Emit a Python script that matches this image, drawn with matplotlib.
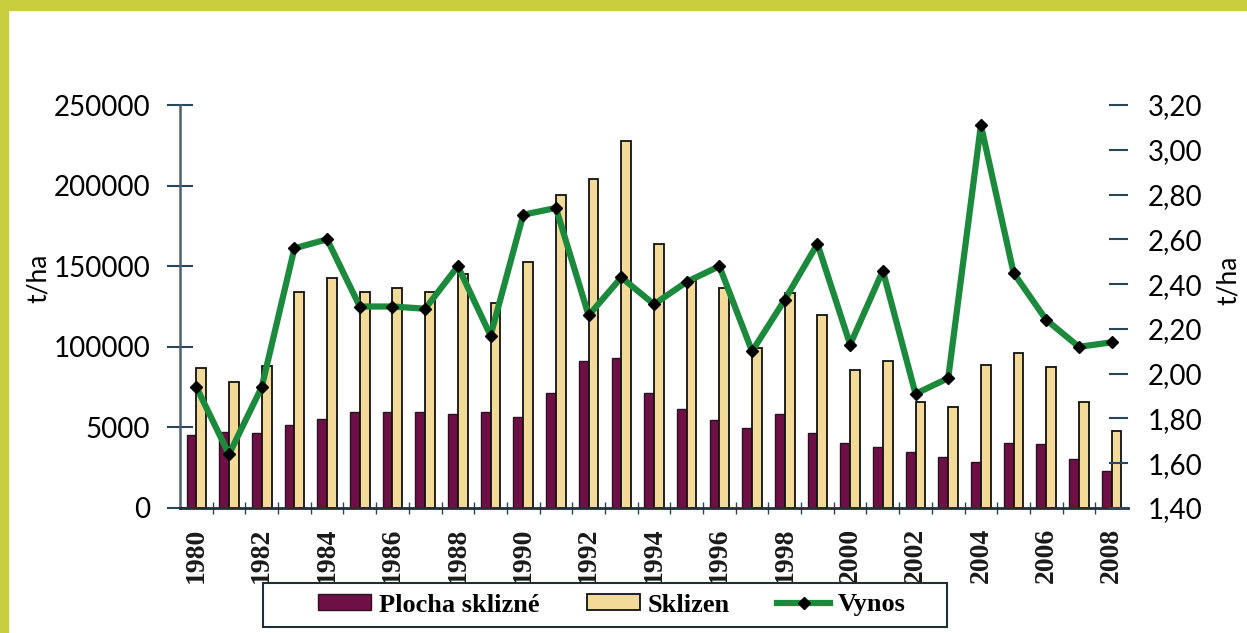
import matplotlib.pyplot as plt
import numpy as np
from matplotlib.patches import Rectangle
from matplotlib.ticker import FixedLocator

years = list(range(1980, 2009))
plocha = [45300, 47000, 46500, 51500, 55200, 59700, 59700, 59700, 58300, 59700,
          56700, 71300, 91200, 93000, 71300, 61400, 54600, 49800, 58300, 46700,
          40300, 38000, 34900, 31800, 28500, 40300, 39700, 30400, 23000]
sklizen = [86800, 78400, 88000, 134000, 142700, 134000, 136500, 134000, 145000, 127000,
           152600, 194000, 204000, 227600, 163800, 141000, 136500, 99000, 133400, 119700,
           85600, 91200, 65900, 62600, 88700, 96100, 87600, 65900, 47800]
vynos = [1.94, 1.64, 1.94, 2.56, 2.60, 2.30, 2.30, 2.29, 2.48, 2.17,
         2.71, 2.74, 2.26, 2.43, 2.31, 2.41, 2.48, 2.10, 2.33, 2.58,
         2.13, 2.46, 1.91, 1.98, 3.11, 2.45, 2.24, 2.12, 2.14]

left_ticks = [0, 50000, 100000, 150000, 200000, 250000]
left_labels = ['0', '5000', '100000', '150000', '200000', '250000']
right_ticks = [1.4, 1.6, 1.8, 2.0, 2.2, 2.4, 2.6, 2.8, 3.0, 3.2]
right_labels = ['1,40', '1,60', '1,80', '2,00', '2,20', '2,40', '2,60', '2,80', '3,00', '3,20']

maroon = '#6e1046'
beige = '#f3da98'
green = '#1c8a3c'
tickcol = '#27475a'

W, H = 1247, 633
fig = plt.figure(figsize=(W / 100, H / 100), dpi=100)
fig.patch.set_facecolor('white')

# yellow-green frame on top and left
fig.patches.append(Rectangle((0, 1 - 10 / H), 1, 10 / H, transform=fig.transFigure,
                             color='#c8ce3e', zorder=0))
fig.patches.append(Rectangle((0, 0), 8 / W, 1, transform=fig.transFigure,
                             color='#c8ce3e', zorder=0))

ax = fig.add_axes([180 / W, 1 - 508 / H, (1128 - 180) / W, (508 - 105) / H])
x = np.arange(len(years))
w = 0.3
b1 = ax.bar(x - w / 2, plocha, w, color=maroon, edgecolor='#2a1020', linewidth=1,
            label='Plocha sklizné')
b2 = ax.bar(x + w / 2, sklizen, w, color=beige, edgecolor='#111111', linewidth=1.3,
            label='Sklizen')

ax.set_xlim(-0.5, len(years) - 0.5)
ax.set_ylim(0, 250000)
ax.set_yticks(left_ticks)
ax.set_yticklabels(left_labels, fontfamily='Lato', fontsize=20)
ax.tick_params(axis='y', direction='inout', length=19, width=1.5, color=tickcol, pad=12)

ax.set_xticks(x)
ax.set_xticklabels([str(y) if y % 2 == 0 else '' for y in years], rotation=90,
                   fontfamily='Liberation Serif', fontweight='bold', fontsize=20,
                   color='#1a1a1a')
ax.tick_params(axis='x', which='major', length=0, pad=14)
ax.xaxis.set_minor_locator(FixedLocator(x[:-1] + 0.5))
ax.tick_params(axis='x', which='minor', direction='inout', length=8, width=1, color=tickcol)

for s in ['top', 'right']:
    ax.spines[s].set_visible(False)
ax.spines['left'].set_color('#4a6070')
ax.spines['left'].set_linewidth(1.8)
ax.spines['bottom'].set_color('#22303a')
ax.spines['bottom'].set_linewidth(2)

ax2 = ax.twinx()
l1, = ax2.plot(x, vynos, color=green, lw=4.5, marker='D', markersize=6,
               markerfacecolor='black', markeredgecolor='black', label='Vynos')
ax2.set_ylim(1.4, 3.2)
ax2.set_yticks(right_ticks)
ax2.set_yticklabels(right_labels, fontfamily='Lato', fontsize=20)
ax2.tick_params(axis='y', direction='in', length=14, width=1.5, color=tickcol, pad=14)
for s in ax2.spines.values():
    s.set_visible(False)

fig.text(38 / W, 1 - 278 / H, 't/ha', rotation=90, ha='center', va='center',
         fontfamily='Lato', fontsize=19)
fig.text(1228 / W, 1 - 280 / H, 't/ha', rotation=90, ha='center', va='center',
         fontfamily='Lato', fontsize=19)

# legend box drawn separately so the entries can sit where they do in the source
fig.patches.append(Rectangle((263 / W, 1 - 627 / H), (947 - 263) / W, (627 - 583) / H,
                             transform=fig.transFigure, facecolor='white',
                             edgecolor='#1f2f3a', linewidth=1.5, zorder=3))
leg = fig.legend([b1, b2, l1], ['Plocha sklizné', 'Sklizen', 'Vynos'],
                 loc='center', bbox_to_anchor=(612 / W, 1 - 605 / H),
                 bbox_transform=fig.transFigure, ncol=3, frameon=False,
                 prop={'family': 'Liberation Serif', 'weight': 'bold', 'size': 19},
                 handlelength=2.0, handleheight=0.55, handletextpad=0.3,
                 columnspacing=1.8, borderpad=0.2)
leg.set_zorder(4)

fig.savefig('out.png', dpi=100)
plt.close()
